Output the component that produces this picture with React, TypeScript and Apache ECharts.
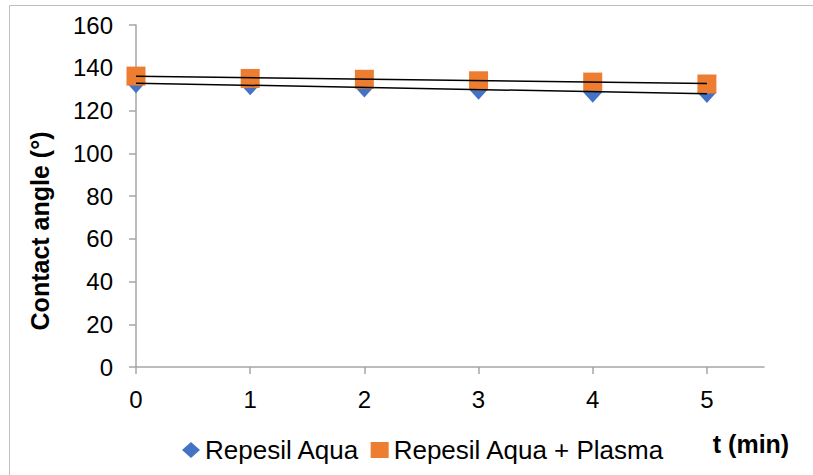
import React, { useEffect, useRef } from "react";
import * as echarts from "echarts";

const times = [0, 1, 2, 3, 4, 5];
const aquaValues = [133, 132, 131, 130, 128.5, 128.4];
const plasmaValues = [136.1, 135.0, 134.6, 133.9, 133.3, 132.4];
const trendX = [0, 5];
const aquaTrend = [132.8, 127.8];
const plasmaTrend = [136.0, 132.6];
const xTicks = [0, 1, 2, 3, 4, 5];
const seriesNames = ["Repesil Aqua", "Repesil Aqua + Plasma"];
const yTitle = "Contact angle (°)";
const xTitle = "t (min)";

const FONT = "'Liberation Sans', Arial, sans-serif";

export default function App() {
  const ref = useRef<HTMLDivElement>(null);
  useEffect(() => {
    if (!ref.current) return;
    const chart = echarts.init(ref.current, undefined, { renderer: "svg" });
    const axisColor = "#A6A6A6";
    chart.setOption({
      animation: false,
      backgroundColor: "#fff",
      textStyle: { fontFamily: FONT },
      grid: { left: 136, right: 49, top: 25, bottom: 108, containLabel: false },
      xAxis: {
        type: "value",
        min: 0,
        max: 5.5,
        axisLine: { show: true, lineStyle: { color: axisColor, width: 1.5 } },
        axisTick: { show: true, length: 7, lineStyle: { color: axisColor, width: 1.5 }, customValues: xTicks },
        axisLabel: { fontSize: 24, color: "#000", margin: 20, fontFamily: FONT, customValues: xTicks },
        splitLine: { show: false },
      },
      yAxis: {
        type: "value",
        min: 0,
        max: 160,
        interval: 20,
        axisLine: { show: true, lineStyle: { color: axisColor, width: 1.5 } },
        axisTick: { show: true, length: 7, lineStyle: { color: axisColor, width: 1.5 } },
        axisLabel: { fontSize: 24, color: "#000", margin: 23, fontFamily: FONT },
        splitLine: { show: false },
      },
      legend: {
        data: seriesNames,
        left: 177,
        top: 432,
        itemWidth: 18,
        itemHeight: 16,
        itemGap: 11,
        textStyle: { fontSize: 26, color: "#000", fontFamily: FONT },
      },
      series: [
        {
          name: seriesNames[0],
          type: "scatter",
          symbol: "diamond",
          symbolSize: [19, 21],
          itemStyle: { color: "#4472C4", opacity: 1 },
          data: times.map((t, i) => [t, aquaValues[i]]),
          z: 2,
        },
        {
          name: seriesNames[1],
          type: "scatter",
          symbol: "rect",
          symbolSize: 19,
          itemStyle: { color: "#ED7D31", opacity: 1 },
          data: times.map((t, i) => [t, plasmaValues[i]]),
          z: 3,
        },
        {
          type: "line",
          data: trendX.map((t, i) => [t, aquaTrend[i]]),
          symbol: "none",
          lineStyle: { color: "#000", width: 1.5 },
          z: 5,
          silent: true,
        },
        {
          type: "line",
          data: trendX.map((t, i) => [t, plasmaTrend[i]]),
          symbol: "none",
          lineStyle: { color: "#000", width: 1.5 },
          z: 5,
          silent: true,
        },
      ],
      graphic: [
        {
          type: "rect",
          shape: { x: 9.5, y: 5.5, width: 840, height: 500 },
          style: { fill: "none", stroke: "#BFBFBF", lineWidth: 1 },
          silent: true,
        },
        {
          type: "text",
          x: 40,
          y: 231,
          rotation: Math.PI / 2,
          style: {
            text: yTitle,
            font: `bold 25px ${FONT}`,
            fill: "#000",
            align: "center",
            verticalAlign: "middle",
          },
        },
        {
          type: "text",
          x: 751,
          y: 444,
          style: {
            text: xTitle,
            font: `bold 25px ${FONT}`,
            fill: "#000",
            align: "center",
            verticalAlign: "middle",
          },
        },
      ],
    });
    return () => chart.dispose();
  }, []);
  return (
    <div
      ref={ref}
      style={{ position: "fixed", left: 0, top: 0, width: 813, height: 475 }}
    />
  );
}
